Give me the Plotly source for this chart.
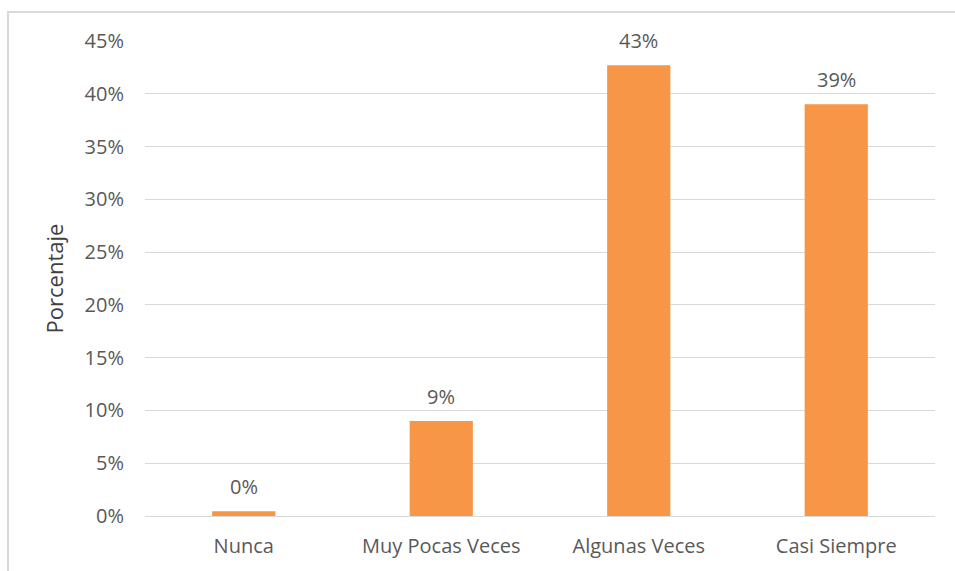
import plotly.graph_objects as go

categories = ["Nunca", "Muy Pocas Veces", "Algunas Veces", "Casi Siempre"]
values = [0.45, 9.0, 42.7, 39.0]
labels = ["0%", "9%", "43%", "39%"]
tick_vals = [0, 5, 10, 15, 20, 25, 30, 35, 40, 45]
tick_text = ["0%", "5%", "10%", "15%", "20%", "25%", "30%", "35%", "40%", "45%"]

FONT = "Open Sans"
TXT = "#595959"
FS = 20

fig = go.Figure()
fig.add_trace(go.Bar(
    x=categories, y=values, width=0.32,
    marker=dict(color="#F79646", line=dict(width=0)),
    hoverinfo="skip",
))
for c, v, t in zip(categories, values, labels):
    fig.add_annotation(x=c, y=v, text=t, showarrow=False, yanchor="bottom", yshift=9,
                       font=dict(family=FONT, size=FS, color=TXT))

L, R, T, B = 145, 20, 41, 55
W, H = 955, 571
pw, ph = W - L - R, H - T - B
fig.add_shape(type="rect", xref="paper", yref="paper",
              x0=(8 - L) / pw, x1=(W + 10 - L) / pw,
              y0=(H - B - (H + 10)) / ph, y1=(H - B - 12) / ph,
              line=dict(color="#D9D9D9", width=2), fillcolor="rgba(0,0,0,0)", layer="below")

fig.update_layout(
    width=W, height=H,
    margin=dict(l=L, r=R, t=T, b=B),
    paper_bgcolor="white", plot_bgcolor="white",
    showlegend=False, bargap=0.68,
    font=dict(family=FONT, size=FS, color=TXT),
    xaxis=dict(showgrid=False, showline=False, zeroline=False,
               ticks="outside", ticklen=12, tickcolor="rgba(0,0,0,0)",
               tickfont=dict(family=FONT, size=FS, color=TXT)),
    yaxis=dict(range=[0, 45], tickvals=tick_vals, ticktext=tick_text,
               showgrid=True, gridcolor="#D9D9D9", gridwidth=1,
               zeroline=True, zerolinecolor="#D9D9D9", zerolinewidth=1,
               showline=False, ticks="outside", ticklen=16, tickcolor="rgba(0,0,0,0)",
               tickfont=dict(family=FONT, size=FS, color=TXT),
               title=dict(text="Porcentaje", standoff=14,
                          font=dict(family=FONT, size=22, color="#404040"))),
)
fig.write_html("out.html")
